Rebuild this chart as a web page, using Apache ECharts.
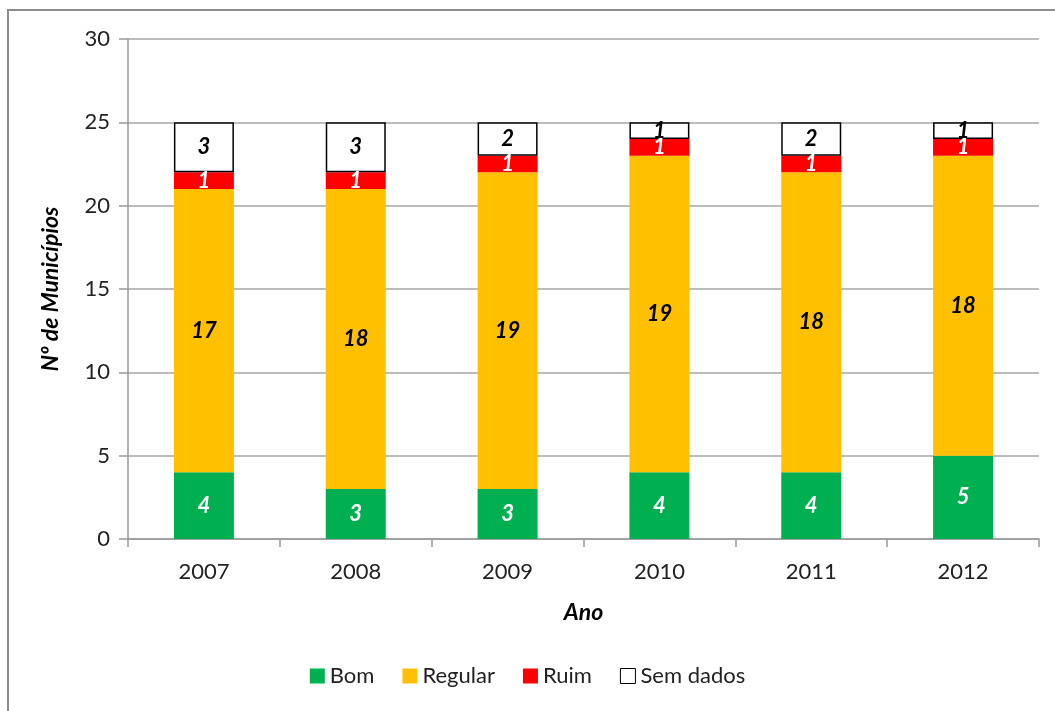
<!DOCTYPE html>
<html>
<head>
<meta charset="utf-8">
<script src="https://cdn.jsdelivr.net/npm/echarts@6/dist/echarts.min.js"></script>
<style>
  html, body { margin: 0; padding: 0; background: #fff; }
  #chart { width: 1055px; height: 711px; }
</style>
</head>
<body>
<div id="chart"></div>
<script>
var anos = ['2007', '2008', '2009', '2010', '2011', '2012'];
var bom = [4, 3, 3, 4, 4, 5];
var regular = [17, 18, 19, 19, 18, 18];
var ruim = [1, 1, 1, 1, 1, 1];
var semDados = [3, 3, 2, 1, 2, 1];

var fonte = 'Lato, "Open Sans", sans-serif';

function serie(nome, dados, cor, corTexto, borda) {
  return {
    name: nome,
    type: 'bar',
    stack: 'total',
    data: dados,
    barWidth: 60,
    itemStyle: {
      color: cor,
      borderColor: borda ? '#000' : cor,
      borderWidth: borda ? 1.5 : 0
    },
    label: {
      show: true,
      position: 'inside',
      color: corTexto,
      fontStyle: 'italic',
      fontWeight: 'bold',
      fontSize: 22,
      fontFamily: fonte
    }
  };
}

var chart = echarts.init(document.getElementById('chart'));
chart.setOption({
  backgroundColor: '#fff',
  animation: false,
  graphic: [{
    type: 'rect',
    shape: { x: 8, y: 10, width: 1100, height: 800 },
    style: { fill: 'none', stroke: '#8c8c8c', lineWidth: 2 }
  }],
  grid: { left: 128, right: 16, top: 39, bottom: 172 },
  legend: {
    bottom: 19,
    left: 'center',
    itemWidth: 15,
    itemHeight: 15,
    itemGap: 28,
    icon: 'rect',
    textStyle: { fontSize: 22, fontFamily: fonte, color: '#222' },
    data: ['Bom', 'Regular', 'Ruim', {name: 'Sem dados', itemStyle: {borderColor: '#000', borderWidth: 1}}]
  },
  xAxis: {
    type: 'category',
    data: anos,
    name: 'Ano',
    nameLocation: 'middle',
    nameGap: 62,
    nameTextStyle: { fontSize: 23, fontStyle: 'italic', fontWeight: 'bold', fontFamily: fonte, color: '#000' },
    axisLine: { lineStyle: { color: '#999', width: 1.5 } },
    axisTick: { show: true, length: 8, lineStyle: { color: '#999', width: 1.5 } },
    axisLabel: { fontSize: 22, fontFamily: fonte, color: '#222', margin: 22 }
  },
  yAxis: {
    type: 'value',
    min: 0,
    max: 30,
    interval: 5,
    name: 'Nº de Municípios',
    nameLocation: 'middle',
    nameGap: 66,
    nameTextStyle: { fontSize: 23, fontStyle: 'italic', fontWeight: 'bold', fontFamily: fonte, color: '#000' },
    axisLine: { show: true, lineStyle: { color: '#999', width: 1.5 } },
    axisTick: { show: true, length: 9, inside: false, lineStyle: { color: '#999', width: 1.5 } },
    axisLabel: { fontSize: 22, fontFamily: fonte, color: '#222', margin: 18 },
    splitLine: { lineStyle: { color: '#a6a6a6', width: 1.5 } }
  },
  series: [
    serie('Bom', bom, '#00b050', '#fff', false),
    serie('Regular', regular, '#ffc000', '#000', false),
    serie('Ruim', ruim, '#ff0000', '#fff', false),
    serie('Sem dados', semDados, '#fff', '#000', true)
  ]
});
</script>
</body>
</html>
